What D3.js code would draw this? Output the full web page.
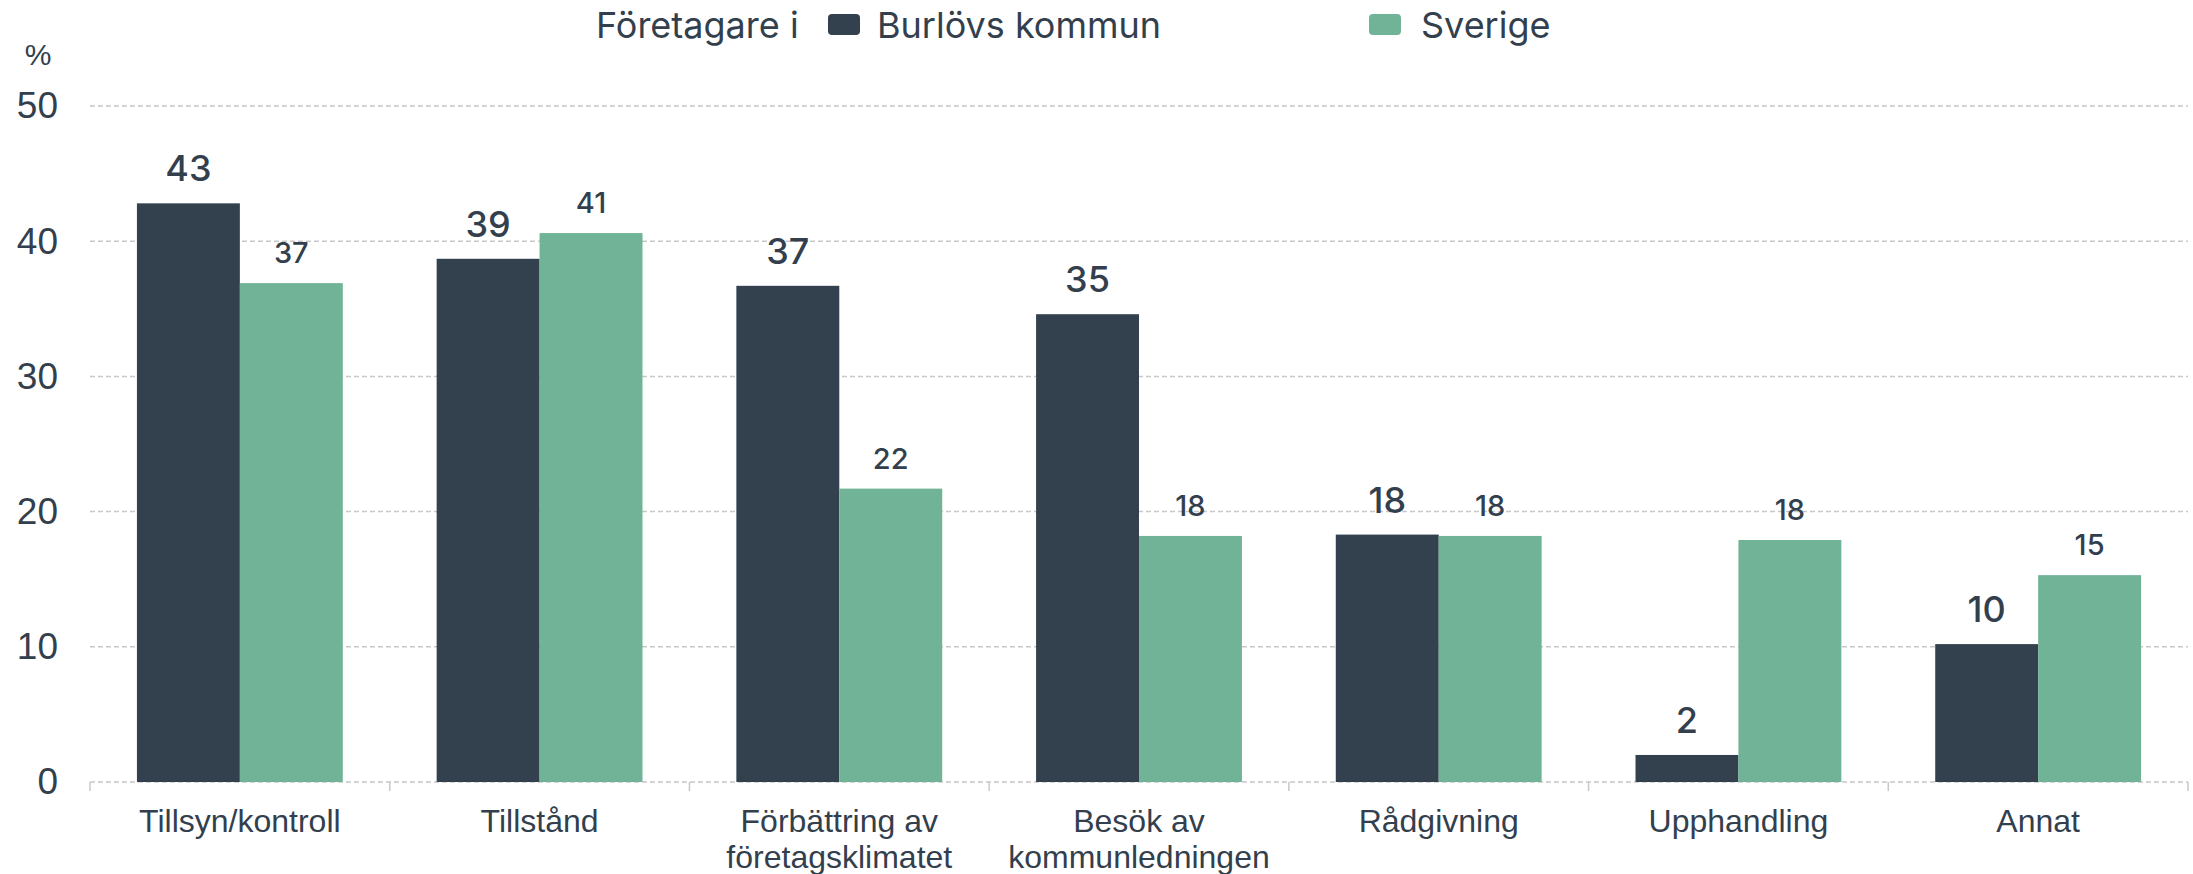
<!DOCTYPE html>
<html>
<head>
<meta charset="utf-8">
<script src="https://cdn.jsdelivr.net/npm/d3@7"></script>
<style>
  body { margin: 0; background: #fff; }
  .chart text { fill: #333f4d; }
  .grid line { stroke: #c8c8c8; stroke-dasharray: 5, 3; stroke-width: 1.5; }
</style>
</head>
<body>
<div class="chart"></div>
<script>
const categories = [
  ['Tillsyn/kontroll'],
  ['Tillstånd'],
  ['Förbättring av', 'företagsklimatet'],
  ['Besök av', 'kommunledningen'],
  ['Rådgivning'],
  ['Upphandling'],
  ['Annat']
];
const seriesNames = ['Burlövs kommun', 'Sverige'];
const burlov = [42.8, 38.7, 36.7, 34.6, 18.3, 2.0, 10.2];
const sverige = [36.9, 40.6, 21.7, 18.2, 18.2, 17.9, 15.3];
const yTicks = [0, 10, 20, 30, 40, 50];

const width = 2193;
const height = 874;
const margin = { top: 106, right: 5, bottom: 92, left: 90 };

const color = {
  dark: '#33414e',
  green: '#70b396',
  text: '#333f4d',
  grid: '#c8c8c8',
};

const labelFont = 'Inter, Lato, sans-serif';
const axisFont = '"Liberation Sans", Arial, sans-serif';

const keys = categories.map(d => d.join(' '));
const rows = keys.map((k, i) => ({ key: k, lines: categories[i], values: [burlov[i], sverige[i]] }));

const svg = d3.select('.chart')
  .append('svg')
    .attr('width', width)
    .attr('height', height);

const x0 = d3.scaleBand()
  .domain(keys)
  .range([margin.left, width - margin.right])
  .padding(0);

const x1 = d3.scaleBand()
  .domain(seriesNames)
  .range([0, x0.bandwidth()])
  .paddingInner(0)
  .paddingOuter(0.456);

const y = d3.scaleLinear()
  .domain([0, 50])
  .range([height - margin.bottom, margin.top]);

const fill = d3.scaleOrdinal()
  .domain(seriesNames)
  .range([color.dark, color.green]);

// gridlines
svg.append('g')
  .attr('class', 'grid')
  .selectAll('line')
  .data(yTicks)
  .join('line')
    .attr('x1', margin.left)
    .attr('x2', width - margin.right)
    .attr('y1', d => y(d))
    .attr('y2', d => y(d));

// y axis labels
const yAxis = svg.append('g')
  .attr('transform', `translate(${margin.left - 32},0)`)
  .call(d3.axisLeft(y).tickValues(yTicks).tickSize(0).tickPadding(0));
yAxis.select('.domain').remove();
yAxis.selectAll('text')
  .attr('fill', color.text)
  .style('font-family', axisFont)
  .style('font-size', '37px');

svg.append('text')
  .attr('x', 38)
  .attr('y', 65)
  .attr('text-anchor', 'middle')
  .style('font-family', axisFont)
  .style('font-size', '30px')
  .text('%');

// x axis: small ticks at band edges
const edges = keys.map(k => x0(k)).concat([x0(keys[keys.length - 1]) + x0.bandwidth()]);
svg.append('g')
  .selectAll('line')
  .data(edges)
  .join('line')
    .attr('x1', d => d)
    .attr('x2', d => d)
    .attr('y1', y(0))
    .attr('y2', y(0) + 9)
    .attr('stroke', color.grid)
    .attr('stroke-width', 1.5);

const xLabels = svg.append('g')
  .selectAll('text')
  .data(rows)
  .join('text')
    .attr('x', d => x0(d.key) + x0.bandwidth() / 2)
    .attr('y', y(0) + 50)
    .attr('text-anchor', 'middle')
    .style('font-family', axisFont)
    .style('font-size', '32px');

xLabels.selectAll('tspan')
  .data(d => d.lines.map(l => ({ l, x: x0(d.key) + x0.bandwidth() / 2 })))
  .join('tspan')
    .attr('x', d => d.x)
    .attr('dy', (d, i) => i ? 36 : 0)
    .text(d => d.l);

// bars
const group = svg.append('g')
  .selectAll('g')
  .data(rows)
  .join('g')
    .attr('transform', d => `translate(${x0(d.key)},0)`);

const cells = group.selectAll('g')
  .data(d => d.values.map((v, i) => ({ name: seriesNames[i], value: v })))
  .join('g');

cells.append('rect')
  .attr('x', d => x1(d.name))
  .attr('y', d => y(d.value))
  .attr('width', x1.bandwidth())
  .attr('height', d => y(0) - y(d.value))
  .attr('fill', d => fill(d.name));

cells.append('text')
  .attr('x', d => x1(d.name) + x1.bandwidth() / 2)
  .attr('y', d => y(d.value) - (d.name === seriesNames[0] ? 22 : 20))
  .attr('text-anchor', 'middle')
  .style('font-family', labelFont)
  .style('font-weight', 500)
  .style('font-size', d => d.name === seriesNames[0] ? '36px' : '29px')
  .text(d => d3.format('.0f')(d.value));

// legend
const legend = svg.append('g')
  .style('font-family', labelFont)
  .style('font-size', '36px');

legend.append('text')
  .attr('x', 596)
  .attr('y', 38)
  .text('Företagare i');

const legendItems = [
  { name: seriesNames[0], sx: 828, tx: 877 },
  { name: seriesNames[1], sx: 1369, tx: 1421 }
];

legend.selectAll('rect')
  .data(legendItems)
  .join('rect')
    .attr('x', d => d.sx)
    .attr('y', 14)
    .attr('width', 32)
    .attr('height', 21)
    .attr('rx', 4)
    .attr('fill', d => fill(d.name));

legend.selectAll('text.item')
  .data(legendItems)
  .join('text')
    .attr('class', 'item')
    .attr('x', d => d.tx)
    .attr('y', 38)
    .text(d => d.name);
</script>
</body>
</html>
